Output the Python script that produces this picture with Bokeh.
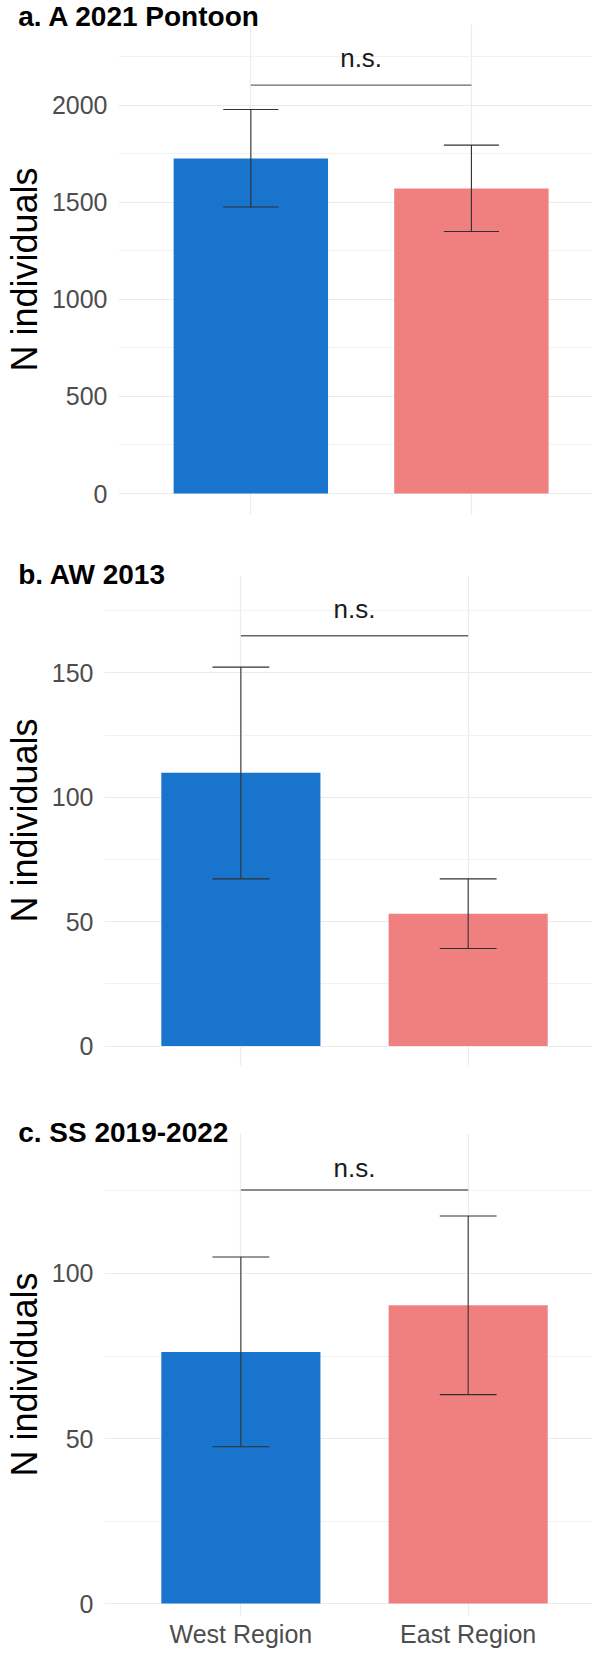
from bokeh.plotting import figure
from bokeh.models import Range1d, FixedTicker
from bokeh.embed import file_html
from bokeh.resources import INLINE
from bokeh.core.properties import value

# ---------------- data ----------------
regions = ["West Region", "East Region"]
bar_colors = ["#1874CD", "#F08080"]

titles = ["a. A 2021 Pontoon", "b. AW 2013", "c. SS 2019-2022"]

a_mean = [1725, 1571]
a_lower = [1475, 1349]
a_upper = [1977, 1794]

b_mean = [109.8, 53.2]
b_lower = [67.2, 39.2]
b_upper = [152.3, 67.2]

c_mean = [76.2, 90.4]
c_lower = [47.5, 63.3]
c_upper = [105.0, 117.4]

sig_line_y = [2103, 164.9, 125.3]
sig_text_y = [2243, 175.6, 132.0]
sig_text = ["n.s.", "n.s.", "n.s."]

y_major = [[0, 500, 1000, 1500, 2000], [0, 50, 100, 150], [0, 50, 100]]
y_minor = [[250, 750, 1250, 1750, 2250], [25, 75, 125, 175], [25, 75, 125]]

# ---------------- layout (styles / positions) ----------------
FONT = "Liberation Sans"
WIDTH = 592
heights = [540, 555, 555]
border_top = [24, 35, 38]
border_bottom = [26, 30, 34]
border_left = [109, 95, 95]
y_ranges = [(-108, 2415), (-7.8, 189.1), (-3.6, 142.4)]
x_ends = [2.549, 2.547, 2.547]
title_standoff = [-15, -28, -28]

means = [a_mean, b_mean, c_mean]
lowers = [a_lower, b_lower, c_lower]
uppers = [a_upper, b_upper, c_upper]

xs = list(range(1, len(regions) + 1))
cap_half = 0.125
bar_width = 0.7
ERR_COLOR = "#303030"
SIG_COLOR = "#666666"


def make_panel(i, show_x):
    p = figure(width=WIDTH, height=heights[i], output_backend="svg",
               toolbar_location=None,
               x_range=Range1d(0.4, x_ends[i]),
               y_range=Range1d(*y_ranges[i]),
               min_border_left=border_left[i], min_border_right=0,
               min_border_top=border_top[i], min_border_bottom=border_bottom[i])
    p.outline_line_color = None
    p.background_fill_color = "white"
    p.border_fill_color = "white"

    # panel title
    p.title.text = titles[i]
    p.title.text_font = FONT
    p.title.text_font_size = "28px"
    p.title.text_font_style = "bold"
    p.title.text_color = "black"
    p.title.align = "left"
    p.title.vertical_align = "bottom"
    p.title.offset = 8.7 - border_left[i]
    p.title.standoff = title_standoff[i]

    # grid
    yt = FixedTicker(ticks=y_major[i], minor_ticks=y_minor[i])
    xt = FixedTicker(ticks=xs)
    p.yaxis.ticker = yt
    p.ygrid.ticker = yt
    p.xaxis.ticker = xt
    p.xgrid.ticker = xt
    p.ygrid.grid_line_color = "#EBEBEB"
    p.ygrid.grid_line_width = 1.2
    p.ygrid.minor_grid_line_color = "#F2F2F2"
    p.ygrid.minor_grid_line_width = 1
    p.xgrid.grid_line_color = "#EBEBEB"
    p.xgrid.grid_line_width = 1.2

    # y axis
    ax = p.yaxis[0]
    ax.axis_line_color = None
    ax.major_tick_line_color = None
    ax.minor_tick_line_color = None
    ax.major_tick_out = 0
    ax.major_tick_in = 0
    ax.major_label_standoff = 7
    ax.major_label_text_font = FONT
    ax.major_label_text_font_size = "25px"
    ax.major_label_text_color = "#4D4D4D"
    ax.axis_label = "N individuals"
    ax.axis_label_text_font = FONT
    ax.axis_label_text_font_size = "36px"
    ax.axis_label_text_font_style = "normal"
    ax.axis_label_text_color = "black"
    ax.axis_label_standoff = 4

    # x axis
    xa = p.xaxis[0]
    if show_x:
        xa.axis_line_color = None
        xa.major_tick_line_color = None
        xa.minor_tick_line_color = None
        xa.major_tick_out = 0
        xa.major_tick_in = 0
        xa.major_label_standoff = 4
        xa.major_label_text_font = FONT
        xa.major_label_text_font_size = "25px"
        xa.major_label_text_color = "#4D4D4D"
        xa.major_label_overrides = {x: r for x, r in zip(xs, regions)}
    else:
        xa.visible = False

    # bars
    p.vbar(x=xs, top=means[i], bottom=0, width=bar_width,
           fill_color=bar_colors, line_color=None)

    # error bars
    p.segment(x0=xs, y0=lowers[i], x1=xs, y1=uppers[i],
              line_color=ERR_COLOR, line_width=1.1)
    p.segment(x0=[x - cap_half for x in xs], x1=[x + cap_half for x in xs],
              y0=uppers[i], y1=uppers[i], line_color=ERR_COLOR, line_width=1.1)
    p.segment(x0=[x - cap_half for x in xs], x1=[x + cap_half for x in xs],
              y0=lowers[i], y1=lowers[i], line_color=ERR_COLOR, line_width=1.1)

    # significance bracket
    p.segment(x0=[xs[0]], x1=[xs[1]], y0=[sig_line_y[i]], y1=[sig_line_y[i]],
              line_color=SIG_COLOR, line_width=1.4)
    p.text(x=[(xs[0] + xs[1]) / 2], y=[sig_text_y[i]], text=[sig_text[i]],
           text_align="center", text_baseline="alphabetic",
           text_font=value(FONT), text_font_size="26px", text_color="#1A1A1A")
    return p


pa = make_panel(0, False)
pb = make_panel(1, False)
pc = make_panel(2, True)

# separate roots so each panel keeps its own inner frame position
open("out.html", "w").write(file_html([pa, pb, pc], INLINE))
